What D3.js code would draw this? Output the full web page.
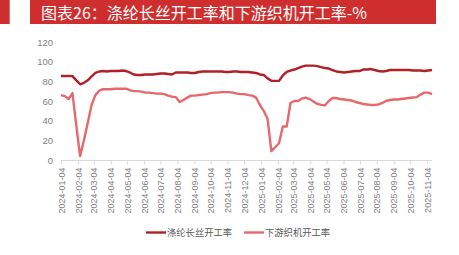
<!DOCTYPE html>
<html><head><meta charset="utf-8">
<script src="https://cdn.jsdelivr.net/npm/d3@7"></script>
<style>
html,body{margin:0;padding:0;background:#fff;}
svg{display:block;font-family:"Noto Sans CJK SC","Noto Sans",sans-serif;}
</style></head>
<body>
<svg id="c" width="459" height="255"></svg>
<script>
const title = "图表26：涤纶长丝开工率和下游织机开工率-%";
const seriesNames = ["涤纶长丝开工率", "下游织机开工率"];
const startDate = "2024-01-04";
const tickLabels = ["2024-01-04","2024-02-04","2024-03-04","2024-04-04","2024-05-04","2024-06-04","2024-07-04","2024-08-04","2024-09-04","2024-10-04","2024-11-04","2024-12-04","2025-01-04","2025-02-04","2025-03-04","2025-04-04","2025-05-04","2025-06-04","2025-07-04","2025-08-04","2025-09-04","2025-10-04","2025-11-04"];
const yTicks = [0,20,40,60,80,100,120];
// weekly values starting 2024-01-04
const polyester = [85.5,85.5,85.5,85.3,81,77,78.5,81,85,88.5,90,90.5,90,90.5,90.5,90.5,91,90.5,89,87,86.5,86.5,87,87,87,87.5,88,88,87.5,87,89,89,89,89,88.5,88.5,89.5,90,90,90,90,90,90,89.5,89.5,90,90,89.5,89.5,89.5,89,88.5,87,86.5,83,80.5,80.5,80.5,86,89.5,91,92,93.5,95,96,96,96,95.5,94.5,93.5,93,91.5,90,89.5,89,89.5,90,90.5,90.5,92,92,92.5,91.5,90.5,90,90.5,91.5,91.5,91.5,91.5,91.5,91.5,91,91,91,90.5,91,91.5];
const weaving = [66,65,62,68,35,4,20,38,56,66,70.5,72,72,72,72.5,72.5,72.5,72.5,71,70,70,69.5,68.5,68.5,68,67.5,67.5,67,65.5,64.5,64,59,61,63.5,65.5,65.5,66,66.5,67,68,68.5,68.5,69,69,69,68.5,67.5,67,67,66,65.5,63.5,56,50,42,9,13,17,34,34,58,60,60,62.5,63.5,62,59.5,57,56,55.5,60,63,63,62,61.5,61,60.5,59,58,57,56.5,56,56,56.5,58,60,61,61.5,61.5,62,62.5,63,63.5,64,66.5,68.5,68.5,67];

const parse = d3.timeParse("%Y-%m-%d");
const t0 = parse(startDate);
const dates = polyester.map((_, i) => d3.timeDay.offset(t0, i * 7));

const svg = d3.select("#c");
// header
svg.append("rect").attr("x",0).attr("y",0).attr("width",9.7).attr("height",24).attr("fill","#cf2e2e");
svg.append("rect").attr("x",30).attr("y",0).attr("width",406).attr("height",24).attr("fill","#cf2e2e");
svg.append("text").attr("x",41).attr("y",18.5).attr("fill","#fff").attr("font-size",16).text(title);

const x = d3.scaleTime().domain([t0, dates[dates.length-1]]).range([61, 432]);
const y = d3.scaleLinear().domain([0,120]).range([160, 42]);

// y axis labels
const ya = svg.append("g").attr("transform","translate(53,0)")
  .call(d3.axisLeft(y).tickValues(yTicks).tickSize(0).tickPadding(0));
ya.select(".domain").remove();
ya.selectAll("text").attr("fill","#7f7f7f").attr("font-size",9.5)
  .attr("font-family","'Liberation Sans',Arial,sans-serif");

// x axis
const tickDates = tickLabels.map(parse);
const xa = svg.append("g").attr("transform","translate(0,160.5)")
  .call(d3.axisBottom(x).tickValues(tickDates).tickFormat(d3.timeFormat("%Y-%m-%d")).tickSize(4).tickSizeOuter(0));
xa.select(".domain").attr("stroke","#d9d9d9").attr("d","M61,0H432");
xa.selectAll(".tick line").attr("stroke","#d9d9d9");
xa.selectAll(".tick text").attr("fill","#7f7f7f").attr("font-size",9)
  .attr("font-family","'Liberation Sans',Arial,sans-serif")
  .attr("text-anchor","end").attr("transform","rotate(-90)")
  .attr("x",-7).attr("y",0).attr("dy","0.35em");

const colors = ["#b31f26", "#e8676a"];
const line = d3.line().x((d,i)=>x(dates[i])).y(d=>y(d)).curve(d3.curveLinear);
svg.append("path").datum(weaving).attr("d",line).attr("fill","none")
  .attr("stroke",colors[1]).attr("stroke-width",2.4).attr("stroke-linejoin","round");
svg.append("path").datum(polyester).attr("d",line).attr("fill","none")
  .attr("stroke",colors[0]).attr("stroke-width",2.4).attr("stroke-linejoin","round");

// legend
const leg = [{x:146, name:seriesNames[0], c:colors[0]},{x:244, name:seriesNames[1], c:colors[1]}];
leg.forEach(l=>{
  svg.append("line").attr("x1",l.x).attr("x2",l.x+20).attr("y1",232.5).attr("y2",232.5)
    .attr("stroke",l.c).attr("stroke-width",2.4);
  svg.append("text").attr("x",l.x+21).attr("y",236).attr("font-size",9.3).attr("fill","#595959").text(l.name);
});
</script>
</body></html>
